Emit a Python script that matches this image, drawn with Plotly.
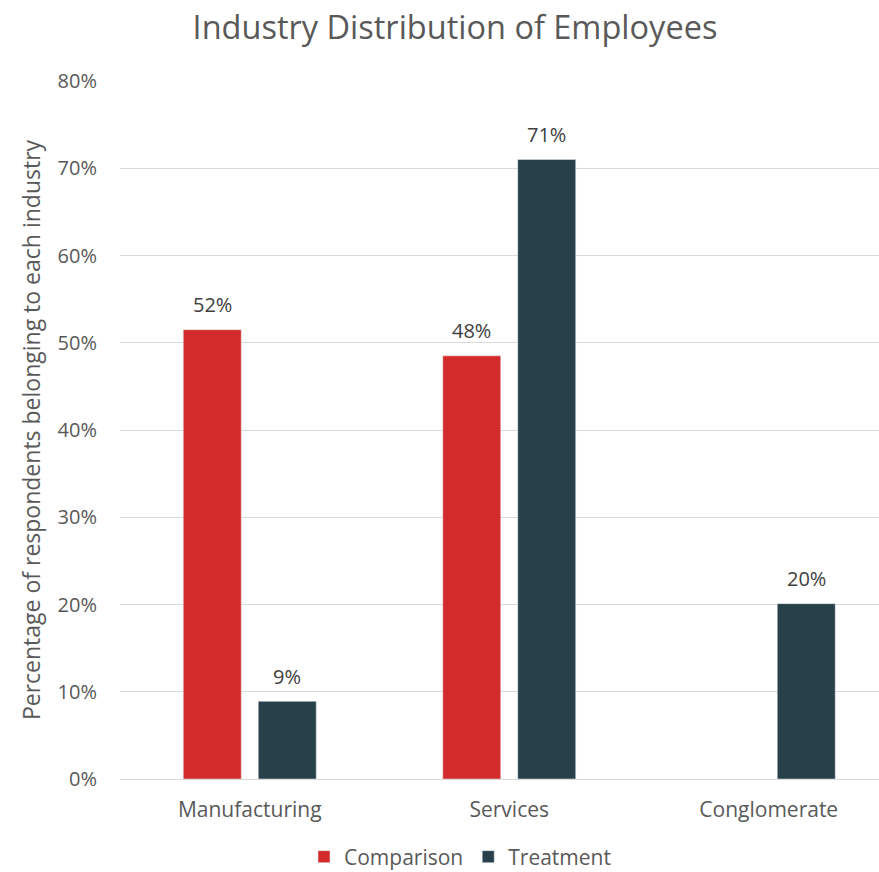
import plotly.graph_objects as go

categories = ["Manufacturing", "Services", "Conglomerate"]
comparison = [0.515, 0.485, None]
treatment = [0.089, 0.710, 0.201]

RED = "#D32B2B"
SLATE = "#27404A"
TEXT = "#595959"
LABEL = "#404040"
FONT = "Open Sans"

W, H = 879, 872
L, R, T, B = 120, 0, 81, 93
cat_px = 259.5
plot_w = W - L - R
x_max = -0.5 + plot_w / cat_px
slot = 0.1445  # offset of each bar from its category centre, in category units


def pct(v):
    return f"{round(v * 100):.0f}%"


fig = go.Figure()
fig.add_trace(go.Bar(name="Comparison", x=categories, y=comparison, marker_color=RED))
fig.add_trace(go.Bar(name="Treatment", x=categories, y=treatment, marker_color=SLATE))

# value labels above each bar
annotations = []
for series, off in ((comparison, -slot), (treatment, slot)):
    for i, v in enumerate(series):
        if v is None:
            continue
        annotations.append(dict(
            x=i + off, y=v, xref="x", yref="y", text=pct(v), showarrow=False,
            yanchor="middle", yshift=25,
            font=dict(size=20, color=LABEL, family=FONT),
        ))

fig.update_layout(
    width=W, height=H,
    margin=dict(l=L, r=R, t=T, b=B, pad=0),
    paper_bgcolor="white", plot_bgcolor="white",
    font=dict(family=FONT, color=TEXT, size=20),
    barmode="group", bargap=0.422, bargroupgap=0.227,
    annotations=annotations,
    title=dict(
        text="Industry Distribution of Employees",
        x=(455 - L) / plot_w, xref="paper", xanchor="center",
        y=1 - 28 / H, yanchor="middle",
        font=dict(size=32.5, color=TEXT, family=FONT),
    ),
    xaxis=dict(
        range=[-0.5, x_max], showgrid=False, showline=False, zeroline=False,
        ticks="", tickfont=dict(size=21, color=TEXT), ticklabelstandoff=16,
        automargin=False,
    ),
    yaxis=dict(
        range=[0, 0.8], dtick=0.1, tickformat=".0%",
        showgrid=True, gridcolor="#D9D9D9", gridwidth=1.3,
        zeroline=True, zerolinecolor="#D9D9D9", zerolinewidth=1.3,
        showline=False, ticks="", ticklabelstandoff=22,
        tickfont=dict(size=20, color=TEXT), automargin=False,
        title=dict(text="Percentage of respondents belonging to each industry",
                   font=dict(size=23, color=TEXT), standoff=10),
    ),
    legend=dict(
        orientation="h", x=(460 - L) / plot_w, xanchor="center",
        yref="container", y=(H - 857) / H, yanchor="middle",
        font=dict(size=21, color=TEXT), itemwidth=30, traceorder="normal",
    ),
)

fig.write_html("out.html")
